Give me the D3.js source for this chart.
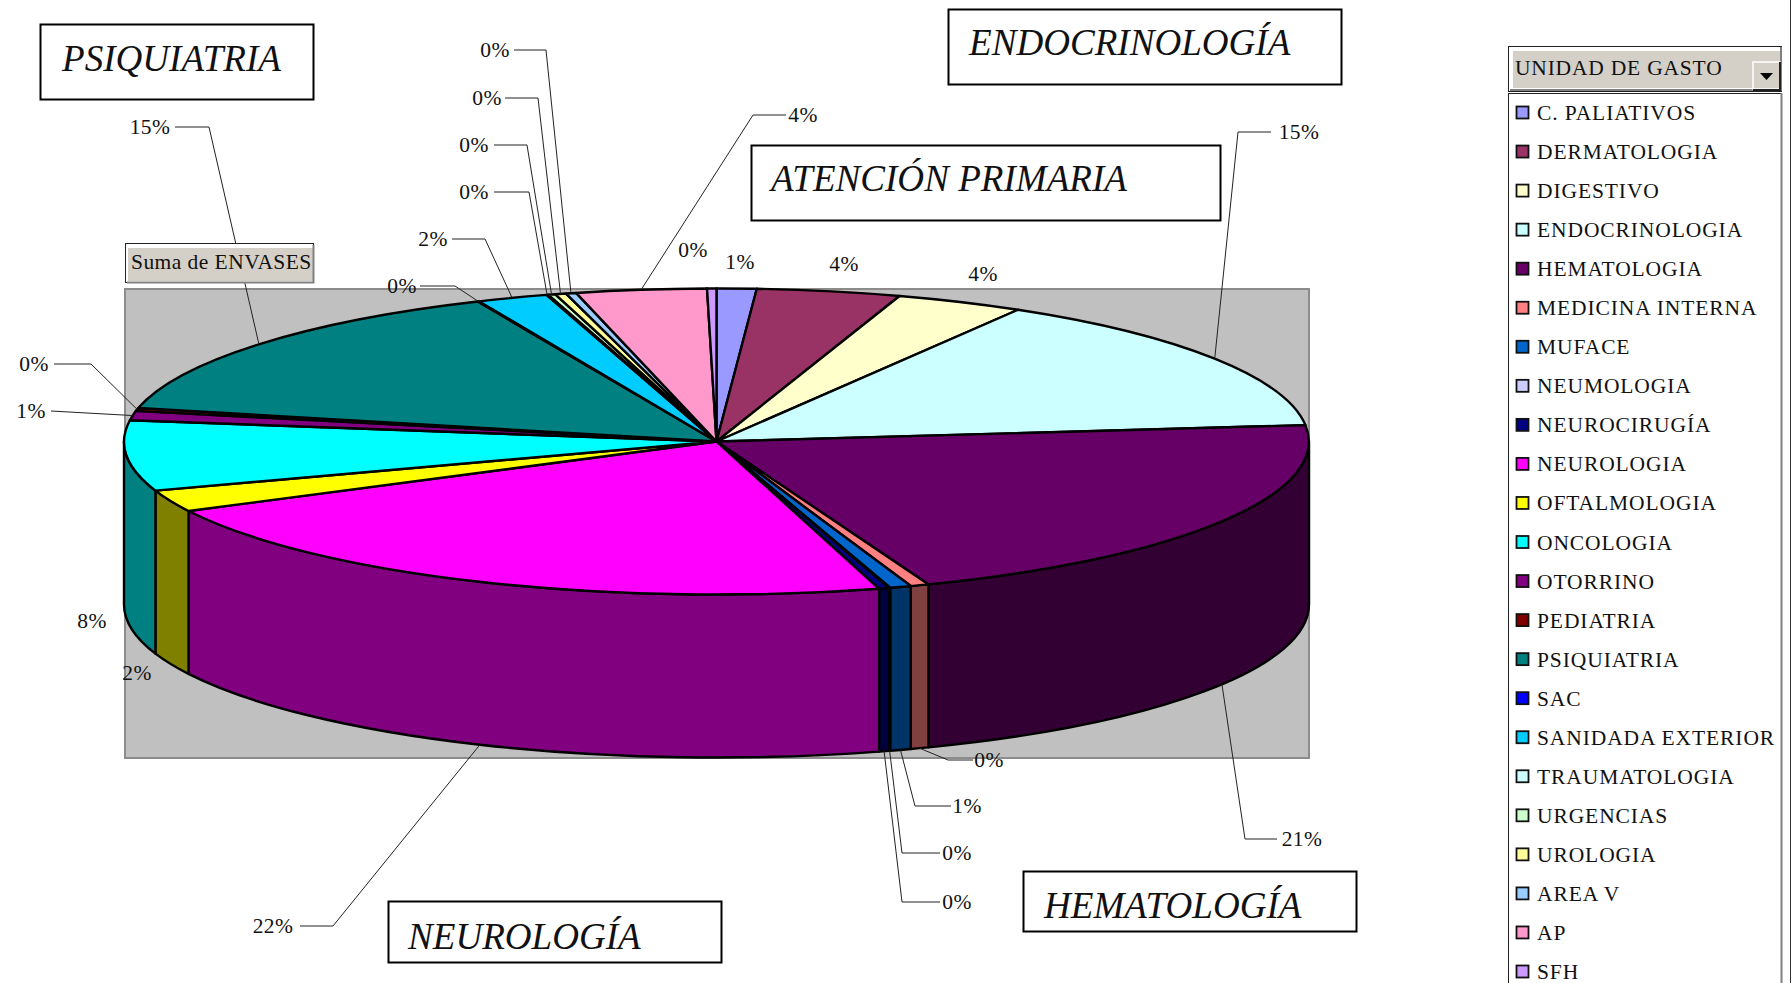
<!DOCTYPE html>
<html><head><meta charset="utf-8">
<style>html,body{margin:0;padding:0;background:#fff;overflow:hidden}svg{display:block}text{font-family:"Liberation Serif",serif;fill:#111}</style>
<script src="https://d3js.org/d3.v7.min.js"></script></head><body>
<svg id="c" width="1791" height="983"></svg>
<script>
const units = ["C. PALIATIVOS","DERMATOLOGIA","DIGESTIVO","ENDOCRINOLOGIA","HEMATOLOGIA","MEDICINA INTERNA","MUFACE","NEUMOLOGIA","NEUROCIRUGÍA","NEUROLOGIA","OFTALMOLOGIA","ONCOLOGIA","OTORRINO","PEDIATRIA","PSIQUIATRIA","SAC","SANIDADA EXTERIOR","TRAUMATOLOGIA","URGENCIAS","UROLOGIA","AREA V","AP","SFH"];
const shares = [1.08,3.92,3.5,14.8,20.88,0.51,0.58,0.03,0.28,21.93,2.29,7.42,1.0,0.3,14.89,0.03,1.93,0.05,0.2,0.3,0.28,3.56,0.25];
const colors = ["#9999FF","#993366","#FFFFCC","#CCFFFF","#660066","#FF8080","#0066CC","#CCCCFF","#000080","#FF00FF","#FFFF00","#00FFFF","#800080","#800000","#008080","#0000FF","#00CCFF","#CCFFFF","#CCFFCC","#FFFF99","#99CCFF","#FF99CC","#CC99FF"];
const pctLabels = ["1%","4%","4%","15%","21%","0%","1%","0%","0%","22%","2%","8%","1%","0%","15%","0%","2%","0%","0%","0%","0%","4%","0%"];
const callouts = ["PSIQUIATRIA","ENDOCRINOLOGÍA","ATENCIÓN PRIMARIA","NEUROLOGÍA","HEMATOLOGÍA"];

// layout only
const cx=716.5, cy=441.5, rx=592.5, ry=153, depth=163;
const calloutBoxes=[[40,24,273,75,62,71],[948,9,393,75,969,55],[751,145,469,75,771,191],[388,901,333,61,408,949],[1023,871,333,60,1044,918]];
// label centre [x,y], then leader elbow [x,y] and leader end [x,y]; short entries have no leader
const labelLayout=[[740,262],[844,264],[983,274],[1299,132,1238,132,1271,132],[1302,839,1245,839,1277,839],[989,760,948,760,973,760],[967,806,915,806,951,806],[957,853,902,853,940,853],[957,902,902,902,940,902],[273,926,333,926,300,926],[137,673],[92,621],[31,411,51,411,51,411],[34,364,91,364,54,364],[150,127,209,127,175,127],[402,286,455,286,420,286],[433,239,485,239,452,239],[474,192,529,192,494,192],[474,145,527,145,494,145],[487,98,538,98,505,98],[495,50,546,50,514,50],[803,115,753,115,786,115],[693,250]];

const svg=d3.select("#c");
const black="#000";
// plot area
svg.append("rect").attr("x",125).attr("y",289).attr("width",1184).attr("height",469).attr("fill","#C0C0C0").attr("stroke","#8c8c8c").attr("stroke-width",2);

const pieGen=d3.pie().sort(null).value(d=>d.v);
const arcs=pieGen(units.map((u,i)=>({u,v:shares[i],c:colors[i],l:pctLabels[i]})));
const X=a=>cx+rx*Math.sin(a), Y=a=>cy-ry*Math.cos(a);
// side walls
const lo=Math.PI/2, hi=3*Math.PI/2;
svg.append("g").selectAll("path").data(arcs.filter(d=>d.endAngle>lo&&d.startAngle<hi)).join("path")
 .attr("d",d=>{const a=Math.max(d.startAngle,lo),b=Math.min(d.endAngle,hi);
   return `M${X(a)},${Y(a)}A${rx},${ry} 0 0 1 ${X(b)},${Y(b)}L${X(b)},${Y(b)+depth}A${rx},${ry} 0 0 0 ${X(a)},${Y(a)+depth}Z`;})
 .attr("fill",d=>{const c=d3.rgb(d.data.c);return d3.rgb(c.r/2,c.g/2,c.b/2).formatHex();})
 .attr("stroke",black).attr("stroke-width",2.4).attr("stroke-linejoin","round");
// top
const arcGen=d3.arc().innerRadius(0).outerRadius(1);
svg.append("g").attr("transform",`translate(${cx},${cy}) scale(${rx},${ry})`).selectAll("path").data(arcs).join("path")
 .attr("d",arcGen).attr("fill",d=>d.data.c).attr("stroke",black).attr("stroke-width",2.4).attr("vector-effect","non-scaling-stroke").attr("stroke-linejoin","round");

// leaders + labels
const frontAnchor=a=>[X(a),Y(a)+(Math.cos(a)<0?depth:0)];
const g=svg.append("g");
arcs.forEach((d,i)=>{
  const L=labelLayout[i],mid=(d.startAngle+d.endAngle)/2,p=frontAnchor(mid);
  if(L.length>2){
    g.append("path").attr("d",d3.line()([p,[L[2],L[3]],[L[4],L[5]]]))
     .attr("fill","none").attr("stroke","#222").attr("stroke-width",1);
  }
  g.append("text").attr("x",L[0]).attr("y",L[1]).attr("text-anchor","middle").attr("dominant-baseline","central").attr("font-size",21.5).attr("letter-spacing",0.4).text(d.data.l);
});

// callout boxes
callouts.forEach((t,i)=>{const b=calloutBoxes[i];
  svg.append("rect").attr("x",b[0]+.5).attr("y",b[1]+.5).attr("width",b[2]).attr("height",b[3]).attr("fill","#fff").attr("stroke",black).attr("stroke-width",2);
  svg.append("text").attr("x",b[4]).attr("y",b[5]).attr("font-size",37.1).attr("font-style","italic").text(t);
});

// Suma de ENVASES field button
svg.append("rect").attr("x",125.5).attr("y",243.5).attr("width",188).attr("height",39).attr("fill","#fff").attr("stroke","#222").attr("stroke-width",1);
svg.append("rect").attr("x",128).attr("y",248).attr("width",185).attr("height",33).attr("fill","#D4D0C8");
svg.append("path").attr("d","M313.5,245V282.5H127").attr("fill","none").attr("stroke","#808080").attr("stroke-width",2);
svg.append("text").attr("x",131).attr("y",269).attr("font-size",21.5).attr("letter-spacing",0.45).text("Suma de ENVASES");

// legend header
svg.append("rect").attr("x",1508.5).attr("y",46.5).attr("width",273).attr("height",45).attr("fill","#fff").attr("stroke","#222");
svg.append("rect").attr("x",1513).attr("y",51).attr("width",268).attr("height",37).attr("fill","#D4D0C8");
svg.append("path").attr("d","M1781,47V90H1510").attr("fill","none").attr("stroke","#808080").attr("stroke-width",2);
svg.append("text").attr("x",1515).attr("y",75).attr("font-size",21.5).attr("letter-spacing",0.8).text("UNIDAD DE GASTO");
svg.append("rect").attr("x",1753).attr("y",62).attr("width",27).attr("height",27).attr("fill","#D4D0C8").attr("stroke","#fff").attr("stroke-width",1.5);
svg.append("path").attr("d","M1780,62V90H1753").attr("fill","none").attr("stroke","#222").attr("stroke-width",2);
svg.append("path").attr("d","M1760,73H1773L1766.5,80Z").attr("fill","#000");
// legend list
svg.append("rect").attr("x",1508.5).attr("y",93.5).attr("width",273).attr("height",900).attr("fill","#fff").attr("stroke","#222");
svg.append("path").attr("d","M1781.5,93V983").attr("stroke","#808080").attr("stroke-width",2);
svg.append("path").attr("d","M1790.5,0V983").attr("stroke","#333").attr("stroke-width",1);
const yL=d3.scalePoint().domain(units).range([113,972]);
const lg=svg.append("g").selectAll("g").data(arcs).join("g").attr("transform",d=>`translate(0,${yL(d.data.u)})`);
lg.append("rect").attr("x",1516.5).attr("y",-6.5).attr("width",12).attr("height",12).attr("fill",d=>d.data.c).attr("stroke","#111").attr("stroke-width",1.8);
lg.append("text").attr("x",1537).attr("y",0).attr("dominant-baseline","central").attr("font-size",21.5).attr("letter-spacing",0.9).text(d=>d.data.u);
</script></body></html>
